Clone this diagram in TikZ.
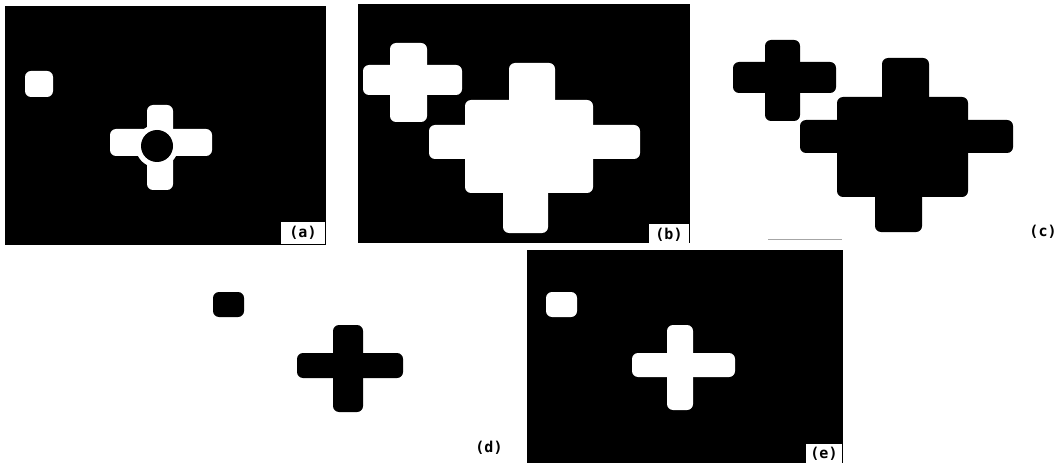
\documentclass[tikz,border=0pt]{standalone}
\usepackage{fontspec}
\newfontfamily\lblfont{DejaVu Sans Mono}
\begin{document}
\begin{tikzpicture}[x=1pt,y=-1pt,
  blk/.style={fill=black,draw=none},
  wht/.style={fill=white,draw=none},
  rr/.style={rounded corners=6pt},
  lbl/.style={font=\lblfont\bfseries\fontsize{15}{15}\selectfont,inner sep=1pt},
  lblbox/.style={lbl,fill=white,minimum width=40pt,minimum height=21pt}]
\useasboundingbox (0,0) rectangle (1064,470);
\fill[white] (0,0) rectangle (1064,470);
% ---- panel (a)
\fill[blk] (5,6) rectangle (326,245);
\fill[wht,rr] (25,71) rectangle (53,97);
\fill[wht,rr] (147,105) rectangle (173,190);
\fill[wht,rr] (110,129) rectangle (212,156);
\fill[wht] (157,146) circle (21.5);
\fill[blk] (157,146) circle (16);
\node[lblbox,minimum width=44pt] (la) at (303,233) {(a)};
% ---- panel (b)
\fill[blk] (358,4) rectangle (690,243);
\fill[wht,rr] (390,43) rectangle (427,122);
\fill[wht,rr] (363,65) rectangle (462,95);
\fill[wht,rr] (509,63) rectangle (555,110);
\fill[wht,rr] (465,100) rectangle (593,193);
\fill[wht,rr] (429,125) rectangle (640,159);
\fill[wht,rr] (503,180) rectangle (548,233);
\node[lblbox] (lb) at (669,235) {(b)};
% ---- panel (c)
\fill[blk,rr] (765,40) rectangle (800,121);
\fill[blk,rr] (733,62) rectangle (836,93);
\fill[blk,rr] (882,58) rectangle (929,110);
\fill[blk,rr] (837,97) rectangle (968,197);
\fill[blk,rr] (800,120) rectangle (1013,153);
\fill[blk,rr] (875,185) rectangle (922,232);
\draw[gray!70,line width=0.6pt] (768,239) -- (842,239);
\node[lbl] (lc) at (1043,232) {(c)};
% ---- panel (d)
\fill[blk,rr] (213,292) rectangle (244,317);
\fill[blk,rr] (333,325) rectangle (363,412);
\fill[blk,rr] (297,353) rectangle (403,378);
\node[lbl] (ld) at (489,448) {(d)};
% ---- panel (e)
\fill[blk] (527,250) rectangle (843,463);
\fill[wht,rr] (546,292) rectangle (577,317);
\fill[wht,rr] (667,325) rectangle (693,410);
\fill[wht,rr] (632,353) rectangle (735,377);
\node[lblbox,minimum width=36pt] (le) at (824,454) {(e)};
\end{tikzpicture}
\end{document}
